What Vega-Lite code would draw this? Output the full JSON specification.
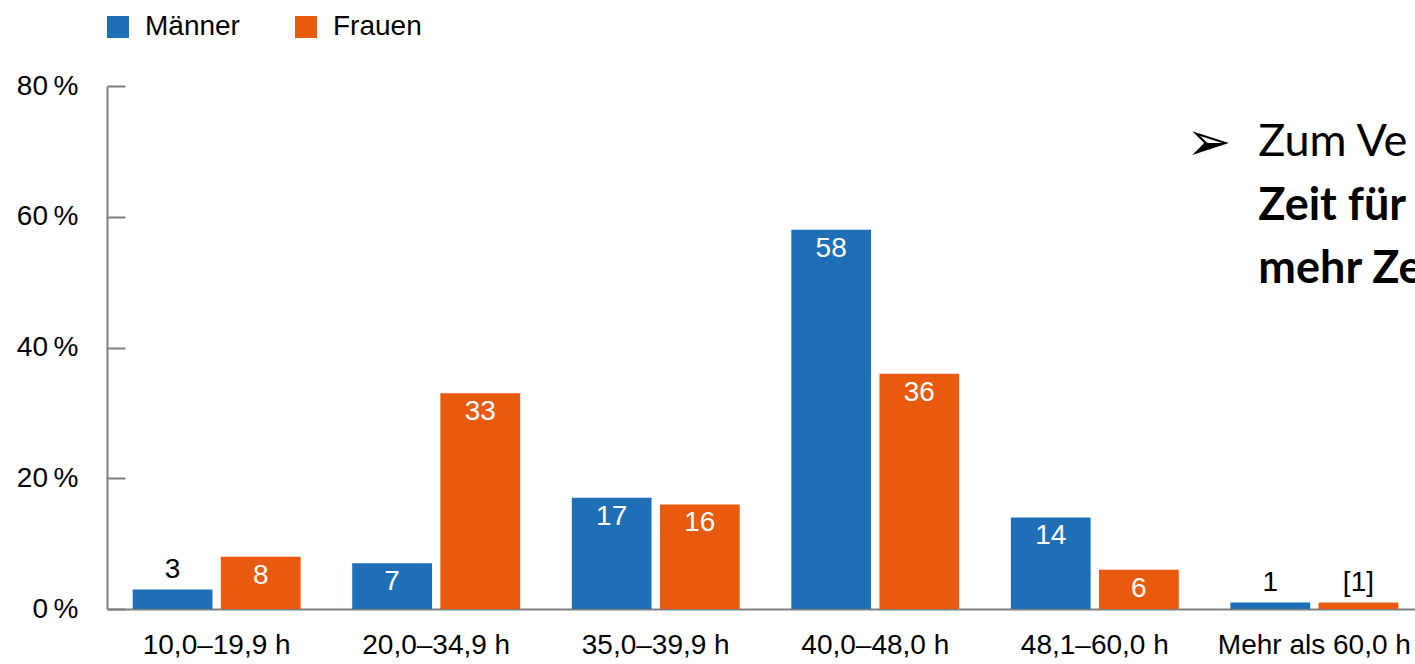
{
  "$schema": "https://vega.github.io/schema/vega-lite/v6.json",
  "width": 1308,
  "height": 523,
  "autosize": {"type": "none"},
  "padding": {"left": 107, "top": 86, "right": 0, "bottom": 55},
  "config": {
    "font": "Liberation Sans",
    "view": {"stroke": null},
    "axis": {
      "domainColor": "#7f7f7f",
      "domainWidth": 2,
      "labelColor": "#000000",
      "labelFontSize": 28,
      "labelFont": "Liberation Sans",
      "labelLimit": 0,
      "labelOverlap": false,
      "grid": false,
      "title": null
    }
  },
  "datasets": {
    "bars": [
      {"range": "10,0–19,9 h", "sex": "Männer", "pct": 3, "label": "3"},
      {"range": "10,0–19,9 h", "sex": "Frauen", "pct": 8, "label": "8"},
      {"range": "20,0–34,9 h", "sex": "Männer", "pct": 7, "label": "7"},
      {"range": "20,0–34,9 h", "sex": "Frauen", "pct": 33, "label": "33"},
      {"range": "35,0–39,9 h", "sex": "Männer", "pct": 17, "label": "17"},
      {"range": "35,0–39,9 h", "sex": "Frauen", "pct": 16, "label": "16"},
      {"range": "40,0–48,0 h", "sex": "Männer", "pct": 58, "label": "58"},
      {"range": "40,0–48,0 h", "sex": "Frauen", "pct": 36, "label": "36"},
      {"range": "48,1–60,0 h", "sex": "Männer", "pct": 14, "label": "14"},
      {"range": "48,1–60,0 h", "sex": "Frauen", "pct": 6, "label": "6"},
      {"range": "Mehr als 60,0 h", "sex": "Männer", "pct": 1, "label": "1"},
      {"range": "Mehr als 60,0 h", "sex": "Frauen", "pct": 1, "label": "[1]"}
    ],
    "notes": [
      {"range": "Mehr als 60,0 h", "pct": 69.3, "text": "➢", "kind": "bullet"},
      {"range": "Mehr als 60,0 h", "pct": 69.3, "text": "Zum Ve", "kind": "normal"},
      {"range": "Mehr als 60,0 h", "pct": 59.5, "text": "Zeit für", "kind": "bold"},
      {"range": "Mehr als 60,0 h", "pct": 49.9, "text": "mehr Ze", "kind": "bold"}
    ]
  },
  "layer": [
    {
      "data": {"name": "bars"},
      "mark": {"type": "bar"},
      "encoding": {
        "x": {
          "field": "range",
          "type": "nominal",
          "sort": null,
          "scale": {
            "domain": ["10,0–19,9 h", "20,0–34,9 h", "35,0–39,9 h", "40,0–48,0 h", "48,1–60,0 h", "Mehr als 60,0 h"],
            "range": [0, 1317],
            "paddingInner": 0.235,
            "paddingOuter": 0.117
          },
          "axis": {"ticks": false, "labelAngle": 0, "labelPadding": 22, "labelBaseline": "top"}
        },
        "xOffset": {
          "field": "sex",
          "type": "nominal",
          "scale": {"domain": ["Männer", "Frauen"], "paddingInner": 0.095, "paddingOuter": 0}
        },
        "y": {
          "field": "pct",
          "type": "quantitative",
          "scale": {"domain": [0, 80], "nice": false},
          "axis": {
            "values": [0, 20, 40, 60, 80],
            "labelExpr": "datum.value + '\u2009%'",
            "tickSize": -18,
            "tickColor": "#7f7f7f",
            "tickWidth": 2,
            "labelPadding": 47
          }
        },
        "color": {
          "field": "sex",
          "type": "nominal",
          "scale": {"domain": ["Männer", "Frauen"], "range": ["#1F6FB7", "#E85B0E"]},
          "legend": {
            "title": null,
            "orient": "none",
            "legendX": -3,
            "legendY": -73,
            "direction": "horizontal",
            "symbolType": "square",
            "symbolSize": 484,
            "symbolStrokeWidth": 0,
            "symbolOpacity": 1,
            "labelFontSize": 28,
            "labelColor": "#000000",
            "labelOffset": 13,
            "columnPadding": 52
          }
        }
      }
    },
    {
      "data": {"name": "bars"},
      "transform": [{"filter": "datum.pct >= 5"}],
      "mark": {"type": "text", "color": "#ffffff", "fontSize": 28, "baseline": "middle", "dy": 19},
      "encoding": {
        "x": {"field": "range", "type": "nominal"},
        "xOffset": {"field": "sex", "type": "nominal"},
        "y": {"field": "pct", "type": "quantitative"},
        "text": {"field": "label"}
      }
    },
    {
      "data": {"name": "bars"},
      "transform": [{"filter": "datum.pct < 5"}],
      "mark": {"type": "text", "color": "#000000", "fontSize": 28, "baseline": "middle", "dy": -19},
      "encoding": {
        "x": {"field": "range", "type": "nominal"},
        "xOffset": {"field": "sex", "type": "nominal"},
        "y": {"field": "pct", "type": "quantitative"},
        "text": {"field": "label"}
      }
    },
    {
      "data": {"name": "notes"},
      "transform": [{"filter": "datum.kind == 'bullet'"}],
      "mark": {"type": "text", "font": "DejaVu Sans", "fontSize": 54, "align": "left", "baseline": "alphabetic", "dx": -44, "dy": 4, "color": "#000000"},
      "encoding": {
        "x": {"field": "range", "type": "nominal", "bandPosition": 0},
        "y": {"field": "pct", "type": "quantitative"},
        "text": {"field": "text"}
      }
    },
    {
      "data": {"name": "notes"},
      "transform": [{"filter": "datum.kind == 'normal'"}],
      "mark": {"type": "text", "font": "Lato", "fontSize": 45, "align": "left", "baseline": "alphabetic", "dx": 28, "color": "#000000"},
      "encoding": {
        "x": {"field": "range", "type": "nominal", "bandPosition": 0},
        "y": {"field": "pct", "type": "quantitative"},
        "text": {"field": "text"}
      }
    },
    {
      "data": {"name": "notes"},
      "transform": [{"filter": "datum.kind == 'bold'"}],
      "mark": {"type": "text", "font": "Lato", "fontSize": 45, "fontWeight": "bold", "align": "left", "baseline": "alphabetic", "dx": 28, "color": "#000000"},
      "encoding": {
        "x": {"field": "range", "type": "nominal", "bandPosition": 0},
        "y": {"field": "pct", "type": "quantitative"},
        "text": {"field": "text"}
      }
    }
  ]
}
